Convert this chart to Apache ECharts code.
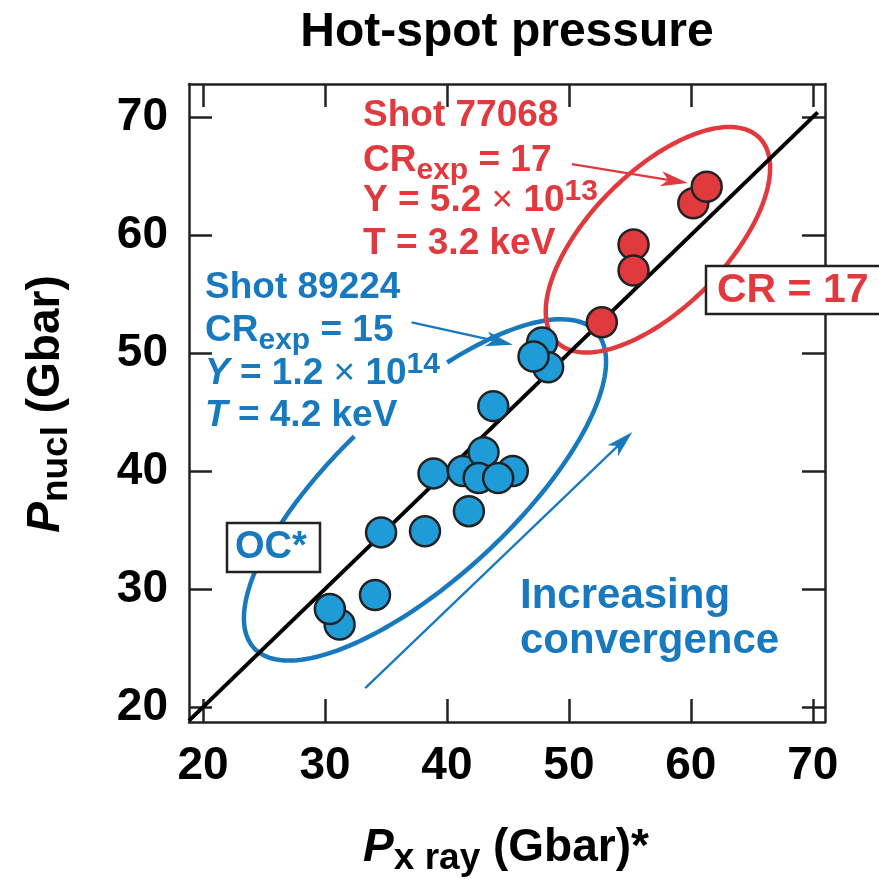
<!DOCTYPE html>
<html>
<head>
<meta charset="utf-8">
<script src="https://cdn.jsdelivr.net/npm/echarts@6/dist/echarts.min.js"></script>
<style>
  html, body { margin: 0; background: #fff; }
  #chart { width: 879px; height: 879px; }
</style>
</head>
<body>
<div id="chart"></div>
<script>
// tick values for both axes
const xTicks = [20, 30, 40, 50, 60, 70];
const yTicks = [20, 30, 40, 50, 60, 70];

// OC* shots (blue), drawn in this order so overlaps match
const blueX = [31.2, 30.4, 34.1, 34.6, 38.2, 38.9, 41.8, 41.3, 45.4, 43.0, 42.6, 44.2, 43.8, 47.8, 48.3, 47.1];
const blueY = [27.0, 28.3, 29.5, 34.8, 34.9, 39.8, 36.6, 40.0, 40.0, 41.6, 39.4, 39.4, 45.5, 50.9, 48.8, 49.7];

// CR = 17 shots (red)
const redX = [52.7, 55.3, 55.3, 60.2, 61.3];
const redY = [52.6, 59.2, 57.0, 62.7, 64.1];

// y = x reference line ends
const fitEnds = [18.85, 70.4];

const FONT = '"Liberation Sans", Arial, Helvetica, sans-serif';
const INK = '#222';
const BLUE_FILL = '#1f9bd7';
const BLUE = '#1879bf';
const RED = '#e03a3e';

// ellipses around the groups (data units): centre, half axes, tilt in degrees, drawn arc
const ellipses = [
  { cx: 38.2, cy: 38.4, a: 19.4, b: 7.3, tilt: 44, from: -63, to: 268, color: BLUE },
  { cx: 57.3, cy: 59.6, a: 12.0, b: 5.65, tilt: 46.7, from: 0, to: 360, color: RED }
];

// arrows [from, to] in data units
const arrows = [
  { from: [50.25, 66.0], to: [59.75, 64.4], color: RED },
  { from: [37.1, 52.6], to: [45.4, 50.7], color: BLUE },
  { from: [33.3, 21.6], to: [55.2, 43.3], color: BLUE }
];

const chart = echarts.init(document.getElementById('chart'));

function boxAxis(pos, ticks, min, max, showLabel) {
  return {
    type: 'value',
    position: pos,
    min: min,
    max: max,
    axisLine: { onZero: false, lineStyle: { color: INK, width: 2.5 } },
    axisTick: { inside: true, length: 23, customValues: ticks, lineStyle: { color: INK, width: 2.5 } },
    axisLabel: {
      show: showLabel,
      customValues: ticks,
      fontSize: 46,
      fontWeight: 'bold',
      fontFamily: FONT,
      color: '#000',
      margin: 21
    },
    splitLine: { show: false }
  };
}

function ellipseItem(api, e) {
  const th = e.tilt * Math.PI / 180;
  const ux = Math.cos(th), uy = Math.sin(th);
  const vx = Math.sin(th), vy = -Math.cos(th);
  const pts = [];
  for (let d = e.from; d <= e.to; d += 2) {
    const t = d * Math.PI / 180;
    const px = e.cx + e.a * Math.cos(t) * ux + e.b * Math.sin(t) * vx;
    const py = e.cy + e.a * Math.cos(t) * uy + e.b * Math.sin(t) * vy;
    pts.push(api.coord([px, py]));
  }
  return {
    type: 'polyline',
    shape: { points: pts },
    style: { stroke: e.color, lineWidth: 4.5, fill: null }
  };
}

function arrowItems(api, ar) {
  const p0 = api.coord(ar.from);
  const p1 = api.coord(ar.to);
  let dx = p1[0] - p0[0], dy = p1[1] - p0[1];
  const len = Math.hypot(dx, dy);
  dx /= len; dy /= len;
  const nx = -dy, ny = dx;
  const L = 27, W = 7.5, notch = 7;
  const bx = p1[0] - dx * L, by = p1[1] - dy * L;
  const mx = p1[0] - dx * (L - notch), my = p1[1] - dy * (L - notch);
  return [
    { type: 'line', shape: { x1: p0[0], y1: p0[1], x2: mx, y2: my }, style: { stroke: ar.color, lineWidth: 2.3 } },
    {
      type: 'polygon',
      shape: { points: [p1, [bx + nx * W, by + ny * W], [mx, my], [bx - nx * W, by - ny * W]] },
      style: { fill: ar.color }
    }
  ];
}

function richSet(size, color) {
  const sub = Math.round(size * 0.8);
  return {
    m: { fontSize: size, fontWeight: 'bold', fontFamily: FONT, fill: color, lineHeight: size + 12 },
    i: { fontSize: size, fontWeight: 'bold', fontStyle: 'italic', fontFamily: FONT, fill: color, lineHeight: size + 12 },
    x: { fontSize: size, fontWeight: 'normal', fontFamily: FONT, fill: color, lineHeight: size + 12 },
    s: { fontSize: sub, fontWeight: 'bold', fontFamily: FONT, fill: color, lineHeight: sub, verticalAlign: 'bottom' },
    p: { fontSize: sub, fontWeight: 'bold', fontFamily: FONT, fill: color, lineHeight: sub, verticalAlign: 'top' }
  };
}

function label(x, y, text, size, color, align, extra) {
  return Object.assign({
    type: 'text',
    x: x,
    y: y,
    z: 100,
    style: {
      text: text,
      rich: richSet(size, color),
      fill: color,
      fontSize: size,
      fontWeight: 'bold',
      fontFamily: FONT,
      align: align || 'left',
      textAlign: align || 'left',
      verticalAlign: 'middle',
      textVerticalAlign: 'middle'
    }
  }, extra || {});
}

const graphics = [
  label(507, 33, '{m|Hot-spot pressure}', 48, '#000', 'center'),
  label(506, 848, '{i|P}{s|x ray}{m| (Gbar)*}', 46, '#000', 'center'),
  label(46, 404, '{i|P}{s|nucl}{m| (Gbar)}', 46, '#000', 'center', { rotation: Math.PI / 2 }),

  label(363, 116, '{m|Shot 77068}', 37, RED),
  label(363, 161, '{m|CR}{s|exp}{m| = 17}', 37, RED),
  label(363, 201, '{m|Y = 5.2 }{x|\u00d7}{m| 10}{p|13}', 37, RED),
  label(363, 244, '{m|T = 3.2 keV}', 37, RED),

  label(205, 288, '{m|Shot 89224}', 37, BLUE),
  label(205, 331, '{m|CR}{s|exp}{m| = 15}', 37, BLUE),
  label(205, 374, '{i|Y}{m| = 1.2 }{x|\u00d7}{m| 10}{p|14}', 37, BLUE),
  label(205, 416, '{i|T}{m| = 4.2 keV}', 37, BLUE),

  label(520, 596, '{m|Increasing}', 42, BLUE),
  label(520, 641, '{m|convergence}', 42, BLUE),

  { type: 'rect', z: 99, shape: { x: 706, y: 266, width: 200, height: 48 }, style: { fill: '#fff', stroke: INK, lineWidth: 2.5 } },
  label(717, 291, '{m|CR = 17}', 41, RED),

  { type: 'rect', z: 99, shape: { x: 227, y: 523, width: 93, height: 49 }, style: { fill: '#fff', stroke: INK, lineWidth: 2.5 } },
  label(235, 548, '{m|OC*}', 38, BLUE)
];

chart.setOption({
  animation: false,
  backgroundColor: '#fff',
  grid: { left: 189, right: 54, top: 84, bottom: 157 },
  xAxis: [
    boxAxis('bottom', xTicks, 18.85, 71, true),
    boxAxis('top', xTicks, 18.85, 71, false)
  ],
  yAxis: [
    boxAxis('left', yTicks, 18.73, 72.8, true),
    boxAxis('right', yTicks, 18.73, 72.8, false)
  ],
  graphic: { elements: graphics },
  series: [
    {
      type: 'custom',
      name: 'ellipses',
      data: [[0, 0]],
      silent: true,
      z: 1,
      renderItem: function (params, api) {
        return { type: 'group', children: ellipses.map(function (e) { return ellipseItem(api, e); }) };
      }
    },
    {
      type: 'line',
      name: 'y = x',
      data: fitEnds.map(function (v) { return [v, v]; }),
      symbol: 'none',
      lineStyle: { color: '#000', width: 4 },
      z: 2
    },
    {
      type: 'custom',
      name: 'arrows',
      data: [[0, 0]],
      silent: true,
      z: 3,
      renderItem: function (params, api) {
        let kids = [];
        arrows.forEach(function (a) { kids = kids.concat(arrowItems(api, a)); });
        return { type: 'group', children: kids };
      }
    },
    {
      type: 'scatter',
      name: 'OC*',
      data: blueX.map(function (x, i) { return [x, blueY[i]]; }),
      symbolSize: 30,
      itemStyle: { color: BLUE_FILL, borderColor: INK, borderWidth: 2.5, opacity: 1 },
      z: 5
    },
    {
      type: 'scatter',
      name: 'CR = 17',
      data: redX.map(function (x, i) { return [x, redY[i]]; }),
      symbolSize: 30,
      itemStyle: { color: RED, borderColor: INK, borderWidth: 2.5, opacity: 1 },
      z: 5
    }
  ]
});
</script>
</body>
</html>
